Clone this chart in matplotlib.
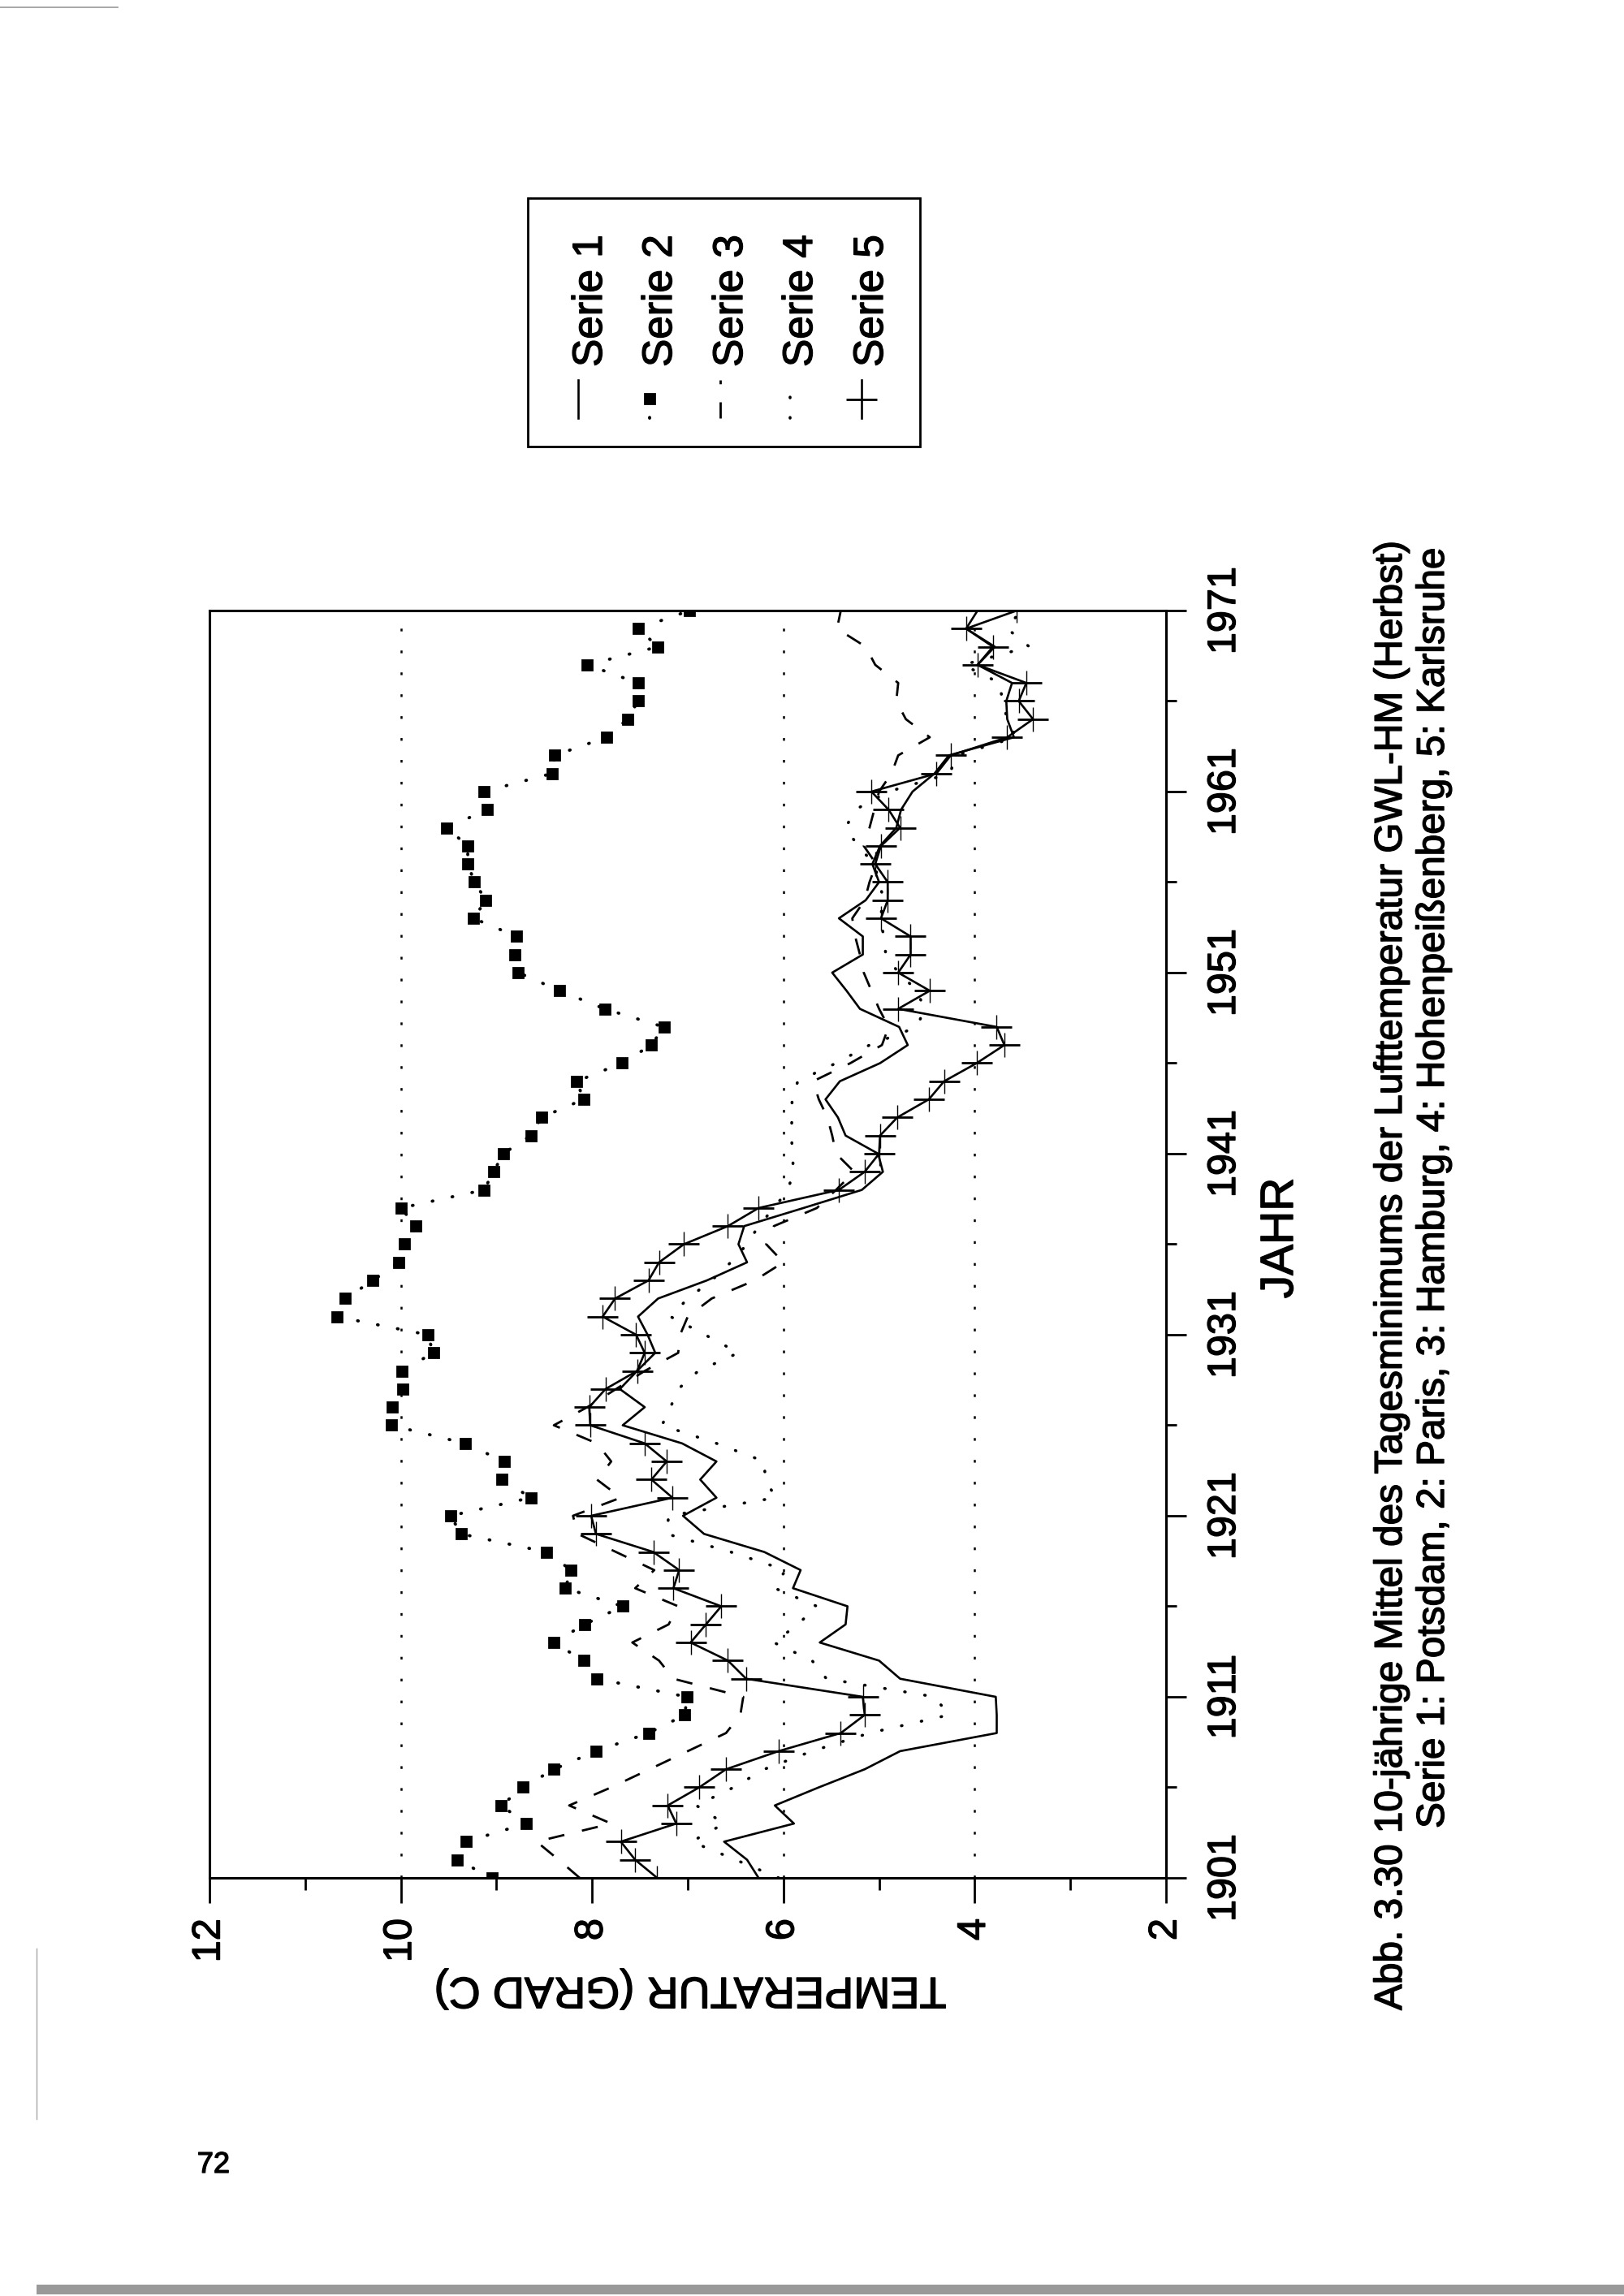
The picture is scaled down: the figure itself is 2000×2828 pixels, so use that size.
import matplotlib
matplotlib.use("Agg")
import matplotlib.pyplot as plt
from matplotlib.patches import Rectangle
import matplotlib.patheffects as pe

plt.rcParams['font.family'] = ['Liberation Sans', 'DejaVu Sans']
plt.rcParams['lines.scale_dashes'] = False

# ---------------- data ----------------
years = list(range(1901, 1972))

potsdam = [6.26, 6.38, 6.62, 5.89, 6.09, 5.63, 5.15, 4.78, 3.77, 3.77,
           3.78, 4.78, 5.00, 5.62, 5.35, 5.33, 5.90, 5.82, 6.20, 6.83,
           7.05, 6.70, 6.87, 6.70, 7.06, 7.68, 7.45, 7.71, 7.53, 7.34,
           7.42, 7.52, 7.31, 6.80, 6.38, 6.47, 6.41, 5.79, 5.18, 4.96,
           5.01, 5.35, 5.43, 5.56, 5.41, 4.99, 4.70, 4.79, 5.20, 5.34,
           5.49, 5.17, 5.17, 5.42, 5.14, 5.00, 5.07, 4.99, 4.82, 4.77,
           4.65, 4.42, 4.27, 3.59, 3.66, 3.67, 3.61, 3.97, 3.79, 4.09,
           3.97]

paris = [9.05, 9.41, 9.32, 8.69, 8.95, 8.72, 8.40, 7.96, 7.41, 7.03,
         7.01, 7.95, 8.09, 8.40, 8.08, 7.68, 8.28, 8.22, 8.48, 9.37,
         9.48, 8.64, 8.94, 8.92, 9.33, 10.10, 10.09, 9.98, 9.99, 9.66,
         9.72, 10.67, 10.58, 10.29, 10.02, 9.96, 9.84, 10.00, 9.13, 9.03,
         8.93, 8.64, 8.53, 8.09, 8.16, 7.69, 7.38, 7.25, 7.87, 8.34,
         8.77, 8.81, 8.79, 9.24, 9.11, 9.23, 9.30, 9.30, 9.52, 9.10,
         9.13, 8.42, 8.39, 7.85, 7.63, 7.52, 7.52, 8.05, 7.31, 7.52,
         6.98]

hamburg = [8.13, 8.35, 8.58, 7.80, 8.24, 7.80, 7.40, 7.00, 6.60, 6.45,
           6.42, 7.15, 7.30, 7.58, 7.20, 7.10, 7.55, 7.35, 7.75, 8.15,
           8.20, 7.70, 7.95, 7.80, 7.95, 8.40, 8.05, 7.75, 7.45, 7.10,
           7.08, 7.00, 6.75, 6.30, 6.00, 6.18, 6.10, 5.65, 5.45, 5.26,
           5.45, 5.49, 5.54, 5.63, 5.69, 5.30, 4.97, 4.90, 5.00, 5.08,
           5.16, 5.20, 5.25, 5.28, 5.15, 5.10, 5.03, 5.16, 5.10, 5.05,
           5.00, 4.87, 4.80, 4.47, 4.72, 4.82, 4.80, 5.04, 5.14, 5.44,
           5.40]

hohenpeissenberg = [6.05, 6.50, 6.96, 6.62, 6.91, 6.52, 6.20, 5.70, 5.10, 4.27,
                    4.42, 5.55, 5.70, 6.10, 5.85, 5.65, 6.09, 5.98, 6.55, 7.22,
                    7.20, 6.08, 6.19, 6.20, 6.70, 7.27, 7.18, 7.10, 6.89, 6.47,
                    6.82, 7.18, 7.00, 6.75, 6.55, 6.38, 6.26, 6.10, 5.95, 5.90,
                    5.90, 5.92, 5.91, 5.91, 5.85, 5.45, 5.10, 4.60, 4.53, 4.60,
                    4.80, 4.93, 4.95, 4.99, 4.95, 5.00, 5.05, 5.22, 5.35, 5.25,
                    4.90, 4.26, 4.19, 3.57, 3.66, 3.71, 3.74, 4.12, 3.43, 3.66,
                    3.52]

karlsruhe = [7.32, 7.55, 7.70, 7.12, 7.21, 6.88, 6.60, 6.05, 5.40, 5.15,
             5.17, 6.39, 6.58, 6.97, 6.81, 6.65, 7.15, 7.09, 7.36, 7.96,
             8.01, 7.16, 7.38, 7.22, 7.45, 8.02, 8.03, 7.86, 7.53, 7.45,
             7.54, 7.89, 7.76, 7.41, 7.30, 7.04, 6.58, 6.26, 5.42, 5.15,
             5.00, 4.99, 4.81, 4.48, 4.32, 3.98, 3.69, 3.77, 4.80, 4.47,
             4.80, 4.67, 4.67, 4.98, 4.91, 4.91, 5.04, 4.98, 4.78, 4.90,
             5.08, 4.40, 4.25, 3.66, 3.39, 3.54, 3.46, 3.97, 3.81, 4.09,
             3.56]

series_labels = ["Serie 1", "Serie 2", "Serie 3", "Serie 4", "Serie 5"]
temp_ticks = [2, 4, 6, 8, 10, 12]
temp_tick_labels = ["2", "4", "6", "8", "10", "12"]
temp_minor = [3, 5, 7, 9, 11]
grid_temps = [10, 6, 4]
year_ticks = [1901, 1911, 1921, 1931, 1941, 1951, 1961, 1971]
year_tick_labels = ["1901", "1911", "1921", "1931", "1941", "1951", "1961", "1971"]
year_minor = [1906, 1916, 1926, 1936, 1946, 1956, 1966]

x_label = "TEMPERATUR (GRAD C)"
y_label = "JAHR"
caption1 = "Abb. 3.30 10-jährige Mittel des Tagesminimums der Lufttemperatur GWL-HM (Herbst)"
caption2 = "Serie 1: Potsdam, 2: Paris, 3: Hamburg, 4: Hohenpeißenberg, 5: Karlsruhe"
page_no = "72"

# ---------------- styles ----------------
W, H = 2000, 2828
K = 'black'
heavy = [pe.withStroke(linewidth=0.5, foreground=K)]
st1 = dict(color=K, lw=0.95)
st2 = dict(color=K, lw=1.4, linestyle=(0, (0.3, 8.7)), dash_capstyle='round',
           marker='s', ms=4.6, mfc=K, mec=K)
st3 = dict(color=K, lw=1.0, linestyle=(0, (7.2, 8.0)))
st4 = dict(color=K, lw=1.3, linestyle=(0, (0.3, 8.7)), dash_capstyle='round')
st5 = dict(color=K, lw=0.95)

fig = plt.figure(figsize=(10, 14.14), dpi=200)
fig.patch.set_facecolor('white')

# main axes (page rotated 90 degrees: temperature runs right-to-left, years upward)
L, R, T, B = 258, 1436, 752, 2313
ax = fig.add_axes([L / W, 1 - B / H, (R - L) / W, (B - T) / H])
ax.set_xlim(12, 2)
ax.set_ylim(1901, 1971)

for g in grid_temps:
    ax.axvline(g, color=K, lw=0.9, linestyle=(0, (1.2, 8.5)), zorder=1)

ax.plot(potsdam, years, zorder=3, **st1)
ax.plot(paris, years, zorder=3, **st2)
ax.plot(hamburg, years, zorder=3, **st3)
ax.plot(hohenpeissenberg, years, zorder=3, **st4)
ax.plot(karlsruhe, years, zorder=3, **st5)
ax.plot(karlsruhe, years, ls='none', marker='_', ms=14, mew=1.0, color=K, zorder=4)
ax.plot(karlsruhe, years, ls='none', marker='|', ms=11, mew=0.5, color=K, zorder=4)

ax.set_xticks(temp_ticks, labels=temp_tick_labels)
ax.set_xticks(temp_minor, minor=True)
ax.yaxis.tick_right()
ax.set_yticks(year_ticks, labels=year_tick_labels)
ax.set_yticks(year_minor, minor=True)

ax.tick_params(axis='x', which='major', direction='out', length=11, width=1.0,
               pad=7, labelsize=17.5, bottom=True, top=False)
ax.tick_params(axis='x', which='minor', direction='out', length=5.5, width=1.0,
               bottom=True, top=False)
ax.tick_params(axis='y', which='major', direction='out', length=9, width=1.0,
               pad=9, labelsize=17.5, left=False, right=True)
ax.tick_params(axis='y', which='minor', direction='out', length=4.7, width=1.0,
               left=False, right=True)
for lbl in ax.get_xticklabels():
    lbl.set_rotation(90)
    lbl.set_ha('center')
    lbl.set_va('top')
    lbl.set_path_effects(heavy)
for lbl in ax.get_yticklabels():
    lbl.set_rotation(90)
    lbl.set_ha('left')
    lbl.set_va('center')
    lbl.set_path_effects(heavy)
for sp in ax.spines.values():
    sp.set_linewidth(1.1)

# overlay in page pixel coordinates for legend, labels and caption
ov = fig.add_axes([0, 0, 1, 1], zorder=5)
ov.set_xlim(0, W)
ov.set_ylim(H, 0)
ov.axis('off')
ov.patch.set_alpha(0)

# legend (rotated)
ov.add_patch(Rectangle((650, 244), 483, 306, fill=False, lw=1.0, ec=K))
sample_x = [712, 800, 887, 973, 1061]
text_base_x = [741, 827, 914, 1000, 1087]
styles = [st1, dict(st2, marker=None), st3, st4, st5]
for i, (sx, tx) in enumerate(zip(sample_x, text_base_x)):
    ov.plot([sx, sx], [515, 468], **styles[i])
    ov.text(tx, 452, series_labels[i], rotation=90, rotation_mode='anchor',
            ha='left', va='baseline', fontsize=18.5, path_effects=heavy)
ov.plot([sample_x[1]], [491], ls='none', marker='s', ms=4.6, mfc=K, mec=K)
ov.plot([sample_x[4]], [492], ls='none', marker='_', ms=14, mew=1.0, color=K)

# axis labels
ov.text(1592, 1525, y_label, rotation=90, rotation_mode='anchor',
        ha='center', va='baseline', fontsize=20.5, path_effects=heavy)
ov.text(850, 2436, x_label, rotation=180, rotation_mode='anchor',
        ha='center', va='baseline', fontsize=19.5, path_effects=heavy)

# caption
ov.text(1726, 2476, caption1, rotation=90, rotation_mode='anchor',
        ha='left', va='baseline', fontsize=17.2, path_effects=heavy)
ov.text(1778, 2252, caption2, rotation=90, rotation_mode='anchor',
        ha='left', va='baseline', fontsize=17.2, path_effects=heavy)

# page number and scan artefacts
ov.text(263, 2676, page_no, ha='center', va='baseline', fontsize=13,
        path_effects=heavy)
ov.plot([45, 45], [2400, 2610], color='0.65', lw=0.5)
ov.plot([0, 145], [9, 9], color='0.6', lw=0.6)
ov.add_patch(Rectangle((45, 2814), W - 45, 12, color='0.6', lw=0))

fig.savefig("out.png", dpi=200, facecolor='white')
